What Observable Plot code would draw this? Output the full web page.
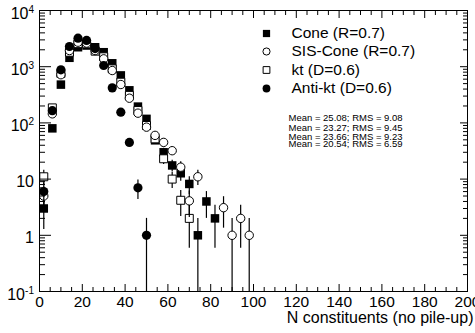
<!DOCTYPE html>
<html><head><meta charset="utf-8">
<script src="https://cdn.jsdelivr.net/npm/d3@7"></script>
<script src="https://cdn.jsdelivr.net/npm/@observablehq/plot@0.6"></script>
<style>
html,body{margin:0;padding:0;background:#fff;overflow:hidden}
svg{font-family:"Liberation Sans",Arial,Helvetica,sans-serif}
</style>
</head><body><div id="chart"></div>
<script>
// bin centres (N constituents), bin width 4
const bins   = [2, 6, 10, 14, 18, 22, 26, 30, 34, 38, 42, 46, 50, 54, 58, 62, 66, 70, 74, 78, 82, 86, 90, 94, 98];
const cone   = [3, 80, 480, 1440, 2220, 2380, 2220, 1810, 1150, 700, 380, 195, 118, 49, 30, 17.5, 12.7, 8.2, 1, 4, 2, null, null, null, null];
const sisCone= [5, 145, 720, 1940, 2730, 2630, 1940, 1380, 855, 482, 275, 149, 84, 60, 45, 32, 16.3, 4.1, 11, null, null, 3.1, 1, 2, 1];
const kt     = [11, 185, 760, 1810, 2570, 2550, 1890, 1500, 915, 530, 309, 166, 90, 52, 23, 10, 4.2, 2.0, null, null, null, null, null, null, null];
const antiKt = [6, 165, 880, 2290, 3220, 2930, 2100, 1050, 420, 155, 45, 7, 1, null, null, null, null, null, null, null, null, null, null, null, null];

const seriesNames = ["Cone (R=0.7)", "SIS-Cone (R=0.7)", "kt (D=0.6)", "Anti-kt (D=0.6)"];
const statLines = ["Mean = 25.08; RMS = 9.08", "Mean = 23.27; RMS = 9.45", "Mean = 23.66; RMS = 9.23", "Mean = 20.54; RMS = 6.59"];

const xMajor = [0, 20, 40, 60, 80, 100, 120, 140, 160, 180, 200];
const xMinor = [5, 10, 15, 25, 30, 35, 45, 50, 55, 65, 70, 75, 85, 90, 95, 105, 110, 115, 125, 130, 135, 145, 150, 155, 165, 170, 175, 185, 190, 195];
const yMajor = [0.1, 1, 10, 100, 1000, 10000];
const yBase  = ["10", "1", "10", "10", "10", "10"];
const yExp   = ["-1", "", "", "2", "3", "4"];
const xTitle = "N constituents (no pile-up)";

const yMinor = [];
for (const d of yMajor.slice(0, -1)) for (let k = 2; k <= 9; k++) yMinor.push(+(d * k).toPrecision(3));

const styles = [
  {vals: cone,    symbol: "square", fill: "black", stroke: "none",  r: 4.8},
  {vals: kt,      symbol: "square", fill: "white", stroke: "black", r: 4.5},
  {vals: sisCone, symbol: "circle", fill: "white", stroke: "black", r: 4.2},
  {vals: antiKt,  symbol: "circle", fill: "black", stroke: "none",  r: 4.6}
];
const legendStyles = [styles[0], styles[2], styles[1], styles[3]];

const marks = [];
for (const s of styles) {
  const rows = bins.map((b, i) => ({bin: b, v: s.vals[i]})).filter(d => d.v != null);
  rows.forEach(d => { const e = Math.sqrt(d.v); d.lo = Math.max(d.v - e, 0.1); d.hi = d.v + e; });
  marks.push(Plot.ruleX(rows, {x: "bin", y1: "lo", y2: "hi", stroke: "black", strokeWidth: 1.2}));
  marks.push(Plot.dot(rows, {x: "bin", y: "v", symbol: () => s.symbol, r: s.r, fill: s.fill, stroke: s.stroke, strokeWidth: 1}));
}

// axes: ticks drawn inward, ROOT style
const fs = 15.5;
marks.push(
  Plot.axisX({anchor: "bottom", ticks: xMajor, tickSize: -7, tickFormat: () => "", label: null}),
  Plot.axisX({anchor: "bottom", ticks: xMinor, tickSize: -4, tickFormat: () => "", label: null}),
  Plot.axisX({anchor: "top", ticks: xMajor, tickSize: -7, tickFormat: () => "", label: null}),
  Plot.axisX({anchor: "top", ticks: xMinor, tickSize: -4, tickFormat: () => "", label: null}),
  Plot.axisX({anchor: "bottom", ticks: xMajor, tickSize: 0, tickPadding: 4, fontSize: fs, label: null, tickFormat: d => String(d)}),
  Plot.axisY({anchor: "left", ticks: yMajor, tickSize: -12, tickFormat: () => "", label: null}),
  Plot.axisY({anchor: "left", ticks: yMinor, tickSize: -6, tickFormat: () => "", label: null}),
  Plot.axisY({anchor: "right", ticks: yMajor, tickSize: -8, tickFormat: () => "", label: null}),
  Plot.axisY({anchor: "right", ticks: yMinor, tickSize: -5, tickFormat: () => "", label: null}),
  Plot.frame({stroke: "black", strokeWidth: 1})
);

const yRows = yMajor.map((v, i) => ({v, base: yBase[i], exp: yExp[i]}));
marks.push(
  Plot.text(yRows.filter(d => d.exp === ""), {y: "v", text: "base", frameAnchor: "left", textAnchor: "end", dx: -5.5, dy: 3, fontSize: 16, fill: "black"}),
  Plot.text(yRows.filter(d => d.exp !== ""), {y: "v", text: "exp", frameAnchor: "left", textAnchor: "end", dx: -5.5, dy: -1, fontSize: 10, fill: "black"}),
  Plot.text(yRows.filter(d => d.exp.length === 1), {y: "v", text: "base", frameAnchor: "left", textAnchor: "end", dx: -11, dy: 3, fontSize: 16, fill: "black"}),
  Plot.text(yRows.filter(d => d.exp.length === 2), {y: "v", text: "base", frameAnchor: "left", textAnchor: "end", dx: -14.5, dy: 3, fontSize: 16, fill: "black"}),
  Plot.text([xTitle], {text: d => d, frameAnchor: "bottom-right", textAnchor: "end", dx: 6, dy: 31, fontSize: 16, fill: "black"})
);

// legend (row centres measured from the frame's top edge)
const legY = [23, 41, 59.5, 78];
seriesNames.forEach((name, i) => {
  const s = legendStyles[i];
  marks.push(Plot.dot([name], {frameAnchor: "top-left", dx: 227, dy: legY[i], symbol: () => s.symbol, r: s.r * 0.85, fill: s.fill, stroke: s.stroke, strokeWidth: 1}));
  marks.push(Plot.text([name], {text: d => d, frameAnchor: "top-left", lineAnchor: "middle", dx: 252, dy: legY[i], textAnchor: "start", fontSize: 15.5, fill: "black"}));
});
const statY = [107, 117, 126.3, 133.3];
statLines.forEach((t, i) => {
  marks.push(Plot.text([t], {text: d => d, frameAnchor: "top-left", lineAnchor: "middle", dx: 249, dy: statY[i], textAnchor: "start", fontSize: 9.5, fill: "black"}));
});

const chart = Plot.plot({
  width: 475, height: 333,
  marginLeft: 39, marginRight: 8, marginTop: 10, marginBottom: 42,
  style: {background: "white", color: "black", fontFamily: '"Liberation Sans", Arial, sans-serif'},
  x: {type: "linear", domain: [0, 200]},
  y: {type: "log", domain: [0.1, 10000]},
  marks
});
document.getElementById("chart").appendChild(chart);
</script>
</body></html>
